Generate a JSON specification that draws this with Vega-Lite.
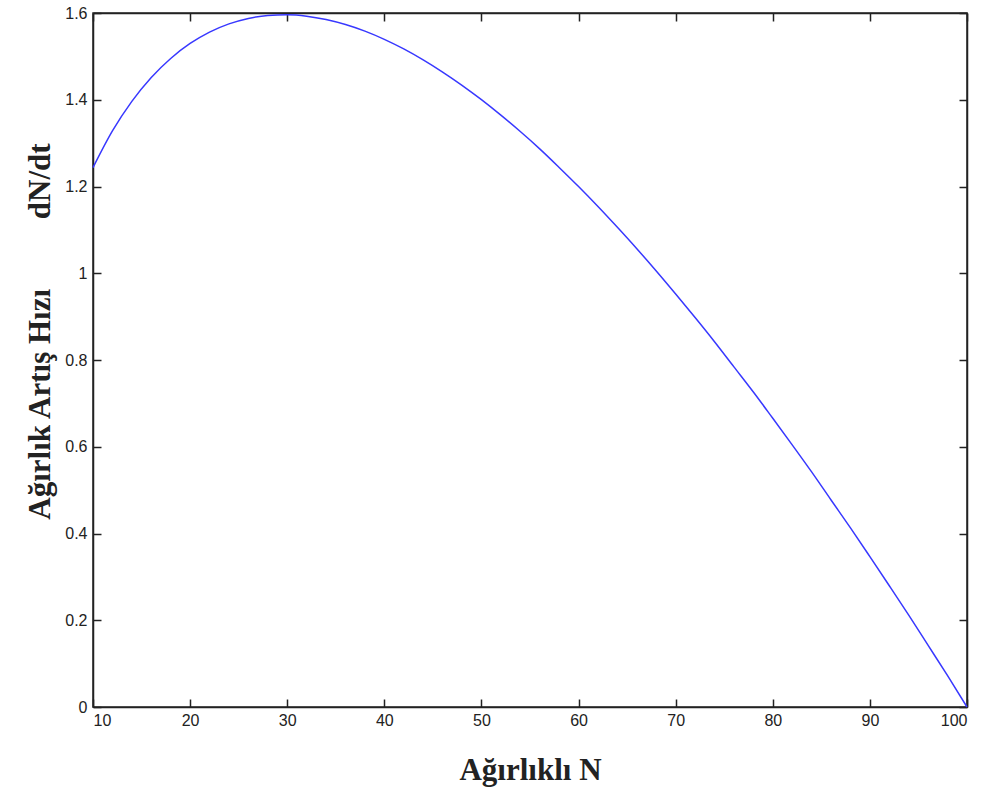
{
  "$schema": "https://vega.github.io/schema/vega-lite/v6.json",
  "width": 874,
  "height": 694,
  "autosize": {"type": "none"},
  "padding": {"left": 93, "top": 13, "right": 22, "bottom": 88},
  "background": "white",
  "config": {
    "view": {"stroke": "#222", "strokeWidth": 1.5},
    "axis": {
      "grid": false,
      "domainColor": "#222",
      "domainWidth": 1.5,
      "tickColor": "#222",
      "tickWidth": 1.5,
      "tickSize": -8,
      "labelFont": "Liberation Sans",
      "labelFontSize": 16,
      "labelColor": "#222",
      "titleFont": "Liberation Serif",
      "titleFontSize": 31,
      "titleFontWeight": "bold",
      "titleColor": "#222"
    }
  },
  "data": {"values": [
    {"N": 10, "r": 1.2436}, {"N": 12, "r": 1.3281}, {"N": 14, "r": 1.3963}, {"N": 16, "r": 1.4513},
    {"N": 18, "r": 1.4952}, {"N": 20, "r": 1.5297}, {"N": 22, "r": 1.5559}, {"N": 24, "r": 1.5749},
    {"N": 26, "r": 1.5875}, {"N": 28, "r": 1.5945}, {"N": 30, "r": 1.5959}, {"N": 32, "r": 1.5927},
    {"N": 34, "r": 1.5850}, {"N": 36, "r": 1.5734}, {"N": 38, "r": 1.5582}, {"N": 40, "r": 1.5393},
    {"N": 42, "r": 1.5172}, {"N": 44, "r": 1.4919}, {"N": 46, "r": 1.4638}, {"N": 48, "r": 1.4333},
    {"N": 50, "r": 1.4001}, {"N": 52, "r": 1.3644}, {"N": 54, "r": 1.3267}, {"N": 56, "r": 1.2868},
    {"N": 58, "r": 1.2440}, {"N": 60, "r": 1.1999}, {"N": 62, "r": 1.1539}, {"N": 64, "r": 1.1059},
    {"N": 66, "r": 1.0565}, {"N": 68, "r": 1.0052}, {"N": 70, "r": 0.9521}, {"N": 72, "r": 0.8979},
    {"N": 74, "r": 0.8422}, {"N": 76, "r": 0.7842}, {"N": 78, "r": 0.7262}, {"N": 80, "r": 0.6656},
    {"N": 82, "r": 0.6044}, {"N": 84, "r": 0.5420}, {"N": 86, "r": 0.4773}, {"N": 88, "r": 0.4130},
    {"N": 90, "r": 0.3467}, {"N": 92, "r": 0.2796}, {"N": 94, "r": 0.2117}, {"N": 96, "r": 0.1420},
    {"N": 98, "r": 0.0722}, {"N": 100, "r": 0.0}
  ]},
  "resolve": {"axis": {"x": "independent", "y": "independent"}},
  "layer": [
    {
      "mark": {"type": "line", "color": "#3838ff", "strokeWidth": 1.5, "interpolate": "monotone"},
      "encoding": {
        "x": {"field": "N", "type": "quantitative",
              "scale": {"domain": [10, 100], "nice": false, "zero": false},
              "axis": {"orient": "bottom", "values": [10,20,30,40,50,60,70,80,90,100],
                       "title": "Ağırlıklı N", "titlePadding": 27, "labelPadding": 13}},
        "y": {"field": "r", "type": "quantitative",
              "scale": {"domain": [0, 1.6], "nice": false},
              "axis": {"orient": "left", "values": [0,0.2,0.4,0.6,0.8,1,1.2,1.4,1.6], "format": "~g",
                       "title": "Ağırlık Artış Hızı\u00a0\u00a0\u00a0\u00a0\u00a0\u00a0\u00a0\u00a0\u00a0dN/dt", "titlePadding": 8, "titleY": 318, "labelPadding": 14}}
      }
    },
    {
      "mark": {"type": "line", "opacity": 0},
      "encoding": {
        "x": {"field": "N", "type": "quantitative",
              "scale": {"domain": [10, 100], "nice": false, "zero": false},
              "axis": {"orient": "top", "values": [10,20,30,40,50,60,70,80,90,100], "labels": false, "title": null}},
        "y": {"field": "r", "type": "quantitative",
              "scale": {"domain": [0, 1.6], "nice": false},
              "axis": {"orient": "right", "values": [0,0.2,0.4,0.6,0.8,1,1.2,1.4,1.6], "labels": false, "title": null}}
      }
    }
  ]
}
